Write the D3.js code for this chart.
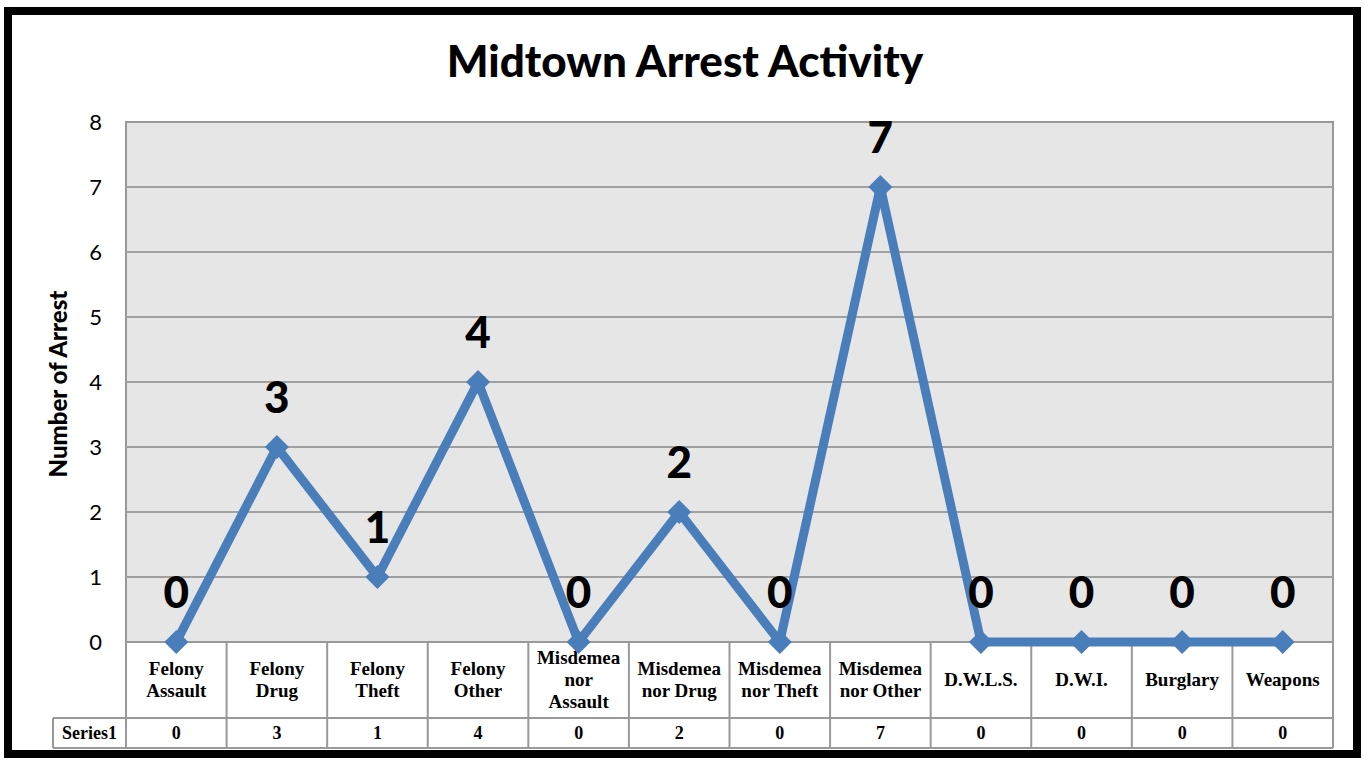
<!DOCTYPE html>
<html>
<head>
<meta charset="utf-8">
<script src="https://cdn.jsdelivr.net/npm/d3@7"></script>
<style>
  body { margin: 0; background: #fff; }
</style>
</head>
<body>
<div id="chart"></div>
<script>
// Data
const categories = ["Felony Assault", "Felony Drug", "Felony Theft", "Felony Other",
  "Misdemeanor Assault", "Misdemeanor Drug", "Misdemeanor Theft", "Misdemeanor Other",
  "D.W.L.S.", "D.W.I.", "Burglary", "Weapons"];
// how each category label wraps inside its table cell
const categoryLines = [["Felony", "Assault"], ["Felony", "Drug"], ["Felony", "Theft"], ["Felony", "Other"],
  ["Misdemea", "nor", "Assault"], ["Misdemea", "nor Drug"], ["Misdemea", "nor Theft"], ["Misdemea", "nor Other"],
  ["D.W.L.S."], ["D.W.I."], ["Burglary"], ["Weapons"]];
const seriesName = "Series1";
const values = [0, 3, 1, 4, 0, 2, 0, 7, 0, 0, 0, 0];
const yTicks = [0, 1, 2, 3, 4, 5, 6, 7, 8];

const W = 1364, H = 761;
const plot = { left: 126, right: 1333, top: 122, bottom: 642 };
const rowTop = 718, rowBottom = 748, seriesLeft = 53;
const sans = "Lato, 'Open Sans', sans-serif";
const serif = "'Liberation Serif', 'DejaVu Serif', serif";

const svg = d3.select("#chart").append("svg")
  .attr("width", W).attr("height", H);

// outer frame
svg.append("rect")
  .attr("x", 8).attr("y", 11).attr("width", 1349).attr("height", 743)
  .attr("fill", "#fff").attr("stroke", "#000").attr("stroke-width", 8);

const x = d3.scaleBand().domain(categories).range([plot.left, plot.right]);
const y = d3.scaleLinear().domain([0, 8]).range([plot.bottom, plot.top]);

// plot background
svg.append("rect")
  .attr("x", plot.left).attr("y", plot.top)
  .attr("width", plot.right - plot.left).attr("height", plot.bottom - plot.top)
  .attr("fill", "#e6e6e6").attr("stroke", "#999").attr("stroke-width", 2);

// gridlines
svg.append("g").selectAll("line")
  .data(yTicks.slice(1, -1))
  .join("line")
  .attr("x1", plot.left).attr("x2", plot.right)
  .attr("y1", d => y(d)).attr("y2", d => y(d))
  .attr("stroke", "#a0a0a0").attr("stroke-width", 2);

// y axis
const yAxis = svg.append("g")
  .attr("transform", "translate(" + plot.left + ",0)")
  .call(d3.axisLeft(y).tickValues(yTicks).tickSize(0).tickPadding(24));
yAxis.select(".domain").remove();
yAxis.selectAll("text")
  .style("font-family", sans)
  .style("font-size", "22px")
  .attr("fill", "#000");

// y title
svg.append("text")
  .attr("transform", "translate(67,384) rotate(-90)")
  .attr("text-anchor", "middle")
  .style("font-family", sans)
  .style("font-weight", "900")
  .style("font-size", "24px")
  .text("Number of Arrest");

// title
svg.append("text")
  .attr("x", 685).attr("y", 77)
  .attr("text-anchor", "middle")
  .style("font-family", sans)
  .style("font-weight", "900")
  .style("font-size", "44px")
  .text("Midtown Arrest Activity");

/* Data table */
const table = svg.append("g");
table.append("g").selectAll("line")
  .data(d3.range(categories.length + 1))
  .join("line")
  .attr("x1", i => plot.left + i * x.bandwidth())
  .attr("x2", i => plot.left + i * x.bandwidth())
  .attr("y1", plot.bottom).attr("y2", rowBottom)
  .attr("stroke", "#999").attr("stroke-width", 2);
[rowTop, rowBottom].forEach(yy => {
  table.append("line")
    .attr("x1", seriesLeft).attr("x2", plot.right)
    .attr("y1", yy).attr("y2", yy)
    .attr("stroke", "#999").attr("stroke-width", 2);
});
table.append("line")
  .attr("x1", seriesLeft).attr("x2", seriesLeft)
  .attr("y1", rowTop).attr("y2", rowBottom)
  .attr("stroke", "#999").attr("stroke-width", 2);

const lineH = 22;
categories.forEach((c, i) => {
  const lines = categoryLines[i];
  const cx = x(c) + x.bandwidth() / 2;
  const cy = (plot.bottom + rowTop) / 2;
  const t = table.append("text")
    .attr("text-anchor", "middle")
    .style("font-family", serif).style("font-weight", "bold").style("font-size", "19px");
  lines.forEach((l, j) => {
    t.append("tspan")
      .attr("x", cx)
      .attr("y", cy + (j - (lines.length - 1) / 2) * lineH + 6)
      .text(l);
  });
});
table.selectAll(".val")
  .data(values)
  .join("text")
  .attr("class", "val")
  .attr("x", (d, i) => x(categories[i]) + x.bandwidth() / 2)
  .attr("y", (rowTop + rowBottom) / 2 + 6)
  .attr("text-anchor", "middle")
  .style("font-family", serif).style("font-weight", "bold").style("font-size", "18px")
  .text(d => d);
table.append("text")
  .attr("x", (seriesLeft + plot.left) / 2).attr("y", (rowTop + rowBottom) / 2 + 6)
  .attr("text-anchor", "middle")
  .style("font-family", serif).style("font-weight", "bold").style("font-size", "18px")
  .text(seriesName);

/* Series line */
const pts = values.map((v, i) => [x(categories[i]) + x.bandwidth() / 2, y(v)]);
svg.append("path")
  .datum(pts)
  .attr("d", d3.line())
  .attr("fill", "none")
  .attr("stroke", "#4a7ebb")
  .attr("stroke-width", 9)
  .attr("stroke-linejoin", "miter");

svg.selectAll(".marker")
  .data(pts)
  .join("path")
  .attr("class", "marker")
  .attr("d", d => "M" + d[0] + "," + (d[1] - 12) + "L" + (d[0] + 12) + "," + d[1] +
    "L" + d[0] + "," + (d[1] + 12) + "L" + (d[0] - 12) + "," + d[1] + "Z")
  .attr("fill", "#4a7ebb");

// data labels
svg.selectAll(".lbl")
  .data(values)
  .join("text")
  .attr("class", "lbl")
  .attr("x", (d, i) => pts[i][0])
  .attr("y", d => y(d) - 34)
  .attr("text-anchor", "middle")
  .style("font-family", sans)
  .style("font-weight", "900")
  .style("font-size", "44px")
  .text(d => d);
</script>
</body>
</html>
